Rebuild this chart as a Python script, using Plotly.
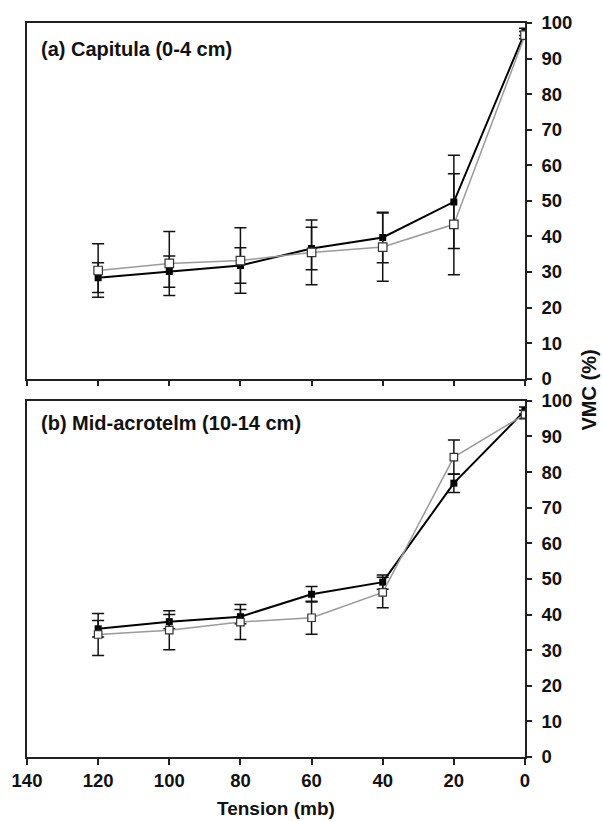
import plotly.graph_objects as go

# ---- data ----
tension = [120, 100, 80, 60, 40, 20, 0]

top_black = [28.4, 30.1, 31.8, 36.6, 39.7, 49.7, 97.5]
top_black_err = [4.2, 4.4, 5.0, 6.0, 7.1, 13.1, 1.0]
top_open = [30.4, 32.4, 33.2, 35.5, 37.0, 43.4, 96.6]
top_open_err = [7.5, 9.0, 9.2, 9.1, 9.6, 14.2, 1.0]

bot_black = [36.0, 38.0, 39.4, 45.7, 49.1, 76.9, 97.3]
bot_black_err = [2.3, 2.0, 2.0, 2.2, 2.0, 2.6, 1.0]
bot_open = [34.4, 35.6, 37.9, 39.1, 46.2, 84.2, 96.2]
bot_open_err = [5.9, 5.5, 4.9, 4.6, 4.3, 4.8, 1.2]

x_ticks = [140, 120, 100, 80, 60, 40, 20, 0]
y_ticks = [0, 10, 20, 30, 40, 50, 60, 70, 80, 90, 100]

panel_titles = ["(a) Capitula (0-4 cm)", "(b) Mid-acrotelm (10-14 cm)"]

FONT = "Liberation Sans, Arial, sans-serif"
W, H = 602, 821
ML, MR, MT, MB = 23, 77, 15, 64
PH = H - MT - MB  # plot area height in px


def py(px):
    return (H - MB - px) / PH


def px_x(px):
    return (px - ML) / (W - ML - MR)


fig = go.Figure()


def add_series(x, y, err, xa, ya, black, msize):
    if black:
        fig.add_trace(go.Scatter(
            x=x, y=y, xaxis=xa, yaxis=ya, mode="lines+markers",
            line=dict(color="#000000", width=2),
            marker=dict(symbol="square", size=msize, color="#000000"),
            error_y=dict(type="data", array=err, visible=True,
                         color="#111111", thickness=1.5, width=6),
            showlegend=False))
    else:
        fig.add_trace(go.Scatter(
            x=x, y=y, xaxis=xa, yaxis=ya, mode="lines+markers",
            line=dict(color="#9a9a9a", width=1.5),
            marker=dict(symbol="square", size=msize, color="#ffffff",
                        line=dict(color="#333333", width=1.2)),
            error_y=dict(type="data", array=err, visible=True,
                         color="#111111", thickness=1.5, width=6),
            showlegend=False))


add_series(tension, top_black, top_black_err, "x", "y", True, 7)
add_series(tension, top_open, top_open_err, "x", "y", False, 8.5)
add_series(tension, bot_black, bot_black_err, "x2", "y2", True, 7)
add_series(tension, bot_open, bot_open_err, "x2", "y2", False, 7.5)

top_dom = [py(374.5), 1.0]
bot_dom = [0.0, py(397)]

common_x = dict(range=[140, 0], tickvals=x_ticks, showgrid=False, zeroline=False,
                showline=True, linecolor="#222222", linewidth=1.5, mirror=True,
                ticks="outside", ticklen=6, tickwidth=1.5, tickcolor="#222222",
                tickfont=dict(family=FONT, size=18.5, color="#111111", weight="bold"))
common_y = dict(range=[0, 100], tickvals=y_ticks, showgrid=False, zeroline=False,
                side="right", showline=True, linecolor="#222222", linewidth=1.5,
                mirror=True, ticks="outside", ticklen=5, tickwidth=1.5,
                tickcolor="#222222", ticklabelstandoff=6,
                tickfont=dict(family=FONT, size=18.5, color="#111111", weight="bold"))

fig.update_layout(
    width=W, height=H,
    margin=dict(l=ML, r=MR, t=MT, b=MB),
    paper_bgcolor="white", plot_bgcolor="white",
    xaxis=dict(common_x, domain=[0, 1], anchor="y", showticklabels=False),
    yaxis=dict(common_y, domain=top_dom, anchor="x"),
    xaxis2=dict(common_x, domain=[0, 1], anchor="y2"),
    yaxis2=dict(common_y, domain=bot_dom, anchor="x2"),
    annotations=[
        dict(text=panel_titles[0], xref="paper", yref="paper", x=px_x(35), y=py(41.5),
             xanchor="left", yanchor="middle", showarrow=False,
             font=dict(family=FONT, size=20, color="#111111", weight="bold")),
        dict(text=panel_titles[1], xref="paper", yref="paper", x=px_x(35), y=py(419),
             xanchor="left", yanchor="middle", showarrow=False,
             font=dict(family=FONT, size=20, color="#111111", weight="bold")),
        dict(text="VMC (%)", xref="paper", yref="paper", x=px_x(590), y=py(386),
             xanchor="center", yanchor="middle", showarrow=False, textangle=-90,
             font=dict(family=FONT, size=20, color="#111111", weight="bold")),
        dict(text="Tension (mb)", xref="paper", yref="paper", x=0.5, y=py(809),
             xanchor="center", yanchor="middle", showarrow=False,
             font=dict(family=FONT, size=19, color="#111111", weight="bold")),
    ],
)

fig.write_html("out.html")
